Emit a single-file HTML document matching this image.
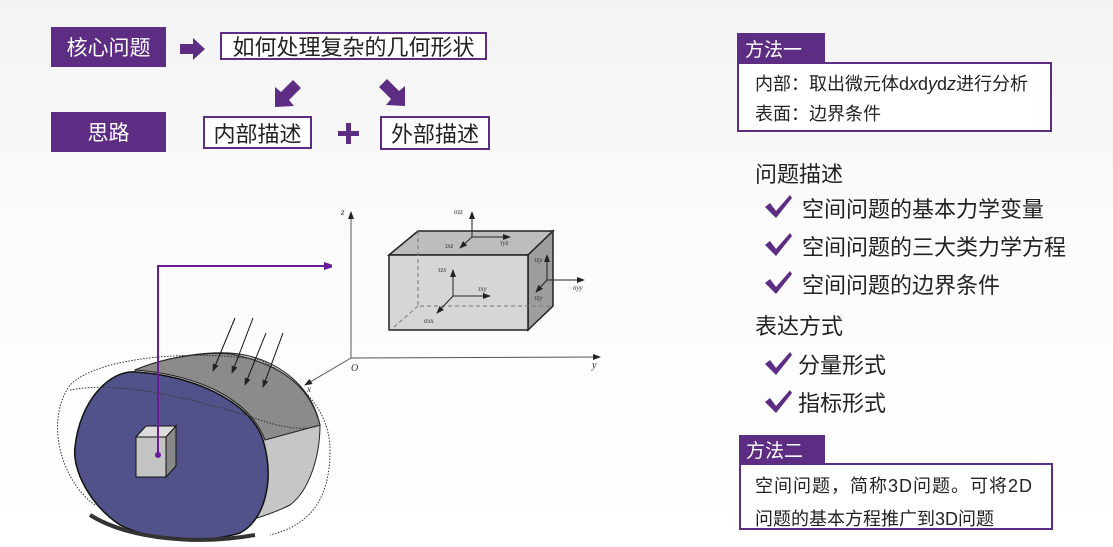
<!DOCTYPE html>
<html><head><meta charset="utf-8"><style>
body{margin:0;width:1113px;height:547px;overflow:hidden;background:linear-gradient(#f3f3f3,#fbfbfb 40%,#fff);font-family:"Liberation Sans","Noto Sans CJK SC",sans-serif;position:relative}
.a{position:absolute;box-sizing:border-box;white-space:nowrap}
.pb{background:#5c2d83;color:#fff;font-size:21px;display:flex;align-items:center;justify-content:center}
.ob{border:2px solid #5c2d83;background:#fff;color:#222;font-size:22px;display:flex;align-items:center;justify-content:center}
.t{color:#222}
</style></head><body>
<div class="a pb" style="left:51px;top:27px;width:115px;height:40px">核心问题</div>
<div class="a ob" style="left:220px;top:32px;width:267px;height:28px">如何处理复杂的几何形状</div>
<div class="a pb" style="left:51px;top:112px;width:115px;height:40px">思路</div>
<div class="a ob" style="left:203px;top:116px;width:109px;height:33px">内部描述</div>
<div class="a ob" style="left:380px;top:116px;width:110px;height:34px">外部描述</div>

<div class="a pb" style="left:737px;top:33px;width:88px;height:30px;font-size:19px;justify-content:flex-start;padding-left:8px">方法一</div>
<div class="a" style="left:737px;top:62px;width:315px;height:70px;border:2px solid #5c2d83;background:#fff"></div>
<div class="a t" style="left:755px;top:70px;font-size:18px">内部：取出微元体d<i>x</i>d<i>y</i>d<i>z</i>进行分析</div>
<div class="a t" style="left:755px;top:100px;font-size:18px">表面：边界条件</div>
<div class="a t" style="left:755px;top:157px;font-size:22px">问题描述</div>
<div class="a t" style="left:802px;top:192px;font-size:22px">空间问题的基本力学变量</div>
<div class="a t" style="left:802px;top:230px;font-size:22px">空间问题的三大类力学方程</div>
<div class="a t" style="left:802px;top:268px;font-size:22px">空间问题的边界条件</div>
<div class="a t" style="left:755px;top:309px;font-size:22px">表达方式</div>
<div class="a t" style="left:798px;top:348px;font-size:22px">分量形式</div>
<div class="a t" style="left:798px;top:386px;font-size:22px">指标形式</div>
<div class="a pb" style="left:739px;top:435px;width:86px;height:29px;font-size:19px;justify-content:flex-start;padding-left:7px">方法二</div>
<div class="a" style="left:739px;top:463px;width:314px;height:67px;border:2px solid #5c2d83;background:#fff"></div>
<div class="a t" style="left:755px;top:472px;font-size:18px;letter-spacing:1px">空间问题，简称3D问题。可将2D</div>
<div class="a t" style="left:755px;top:505px;font-size:18px">问题的基本方程推广到3D问题</div>

<svg class="a" style="left:0;top:0" width="1113" height="547">
<defs><marker id="ar" markerWidth="8" markerHeight="6" refX="7" refY="3" orient="auto"><path d="M0,0L8,3L0,6z" fill="#222"/></marker>
<marker id="ap" markerWidth="8" markerHeight="8" refX="6" refY="4" orient="auto" markerUnits="userSpaceOnUse"><path d="M0,0L12,4L0,8z" fill="#6a1b9a"/></marker></defs>
<path d="M180,44h13v-6l12,11l-12,11v-6h-13z" fill="#5c2d83"/>
<g fill="#5c2d83">
<path d="M275,107 l0,-20 l6,5 l12,-12 l8,8 l-12,12 l5,6 z"/>
<path d="M405,106 l0,-20 l-6,5 l-12,-12 l-8,8 l12,12 l-5,6 z"/>
<rect x="338" y="131" width="21" height="5"/><rect x="346" y="123" width="5" height="21"/>
</g>
<g fill="#5c2d83" transform="translate(765,195)"><path d="M0,12 l5,-4 l6,8 l14,-16 l2,3 l-16,20 z"/></g>
<g fill="#5c2d83" transform="translate(765,233)"><path d="M0,12 l5,-4 l6,8 l14,-16 l2,3 l-16,20 z"/></g>
<g fill="#5c2d83" transform="translate(765,271)"><path d="M0,12 l5,-4 l6,8 l14,-16 l2,3 l-16,20 z"/></g>
<g fill="#5c2d83" transform="translate(765,352)"><path d="M0,12 l5,-4 l6,8 l14,-16 l2,3 l-16,20 z"/></g>
<g fill="#5c2d83" transform="translate(765,390)"><path d="M0,12 l5,-4 l6,8 l14,-16 l2,3 l-16,20 z"/></g>

<g stroke="#555" stroke-width="1" fill="none">
<line x1="351" y1="358" x2="351" y2="212" marker-end="url(#ar)"/>
<line x1="351" y1="358" x2="600" y2="357" marker-end="url(#ar)"/>
<line x1="351" y1="358" x2="305" y2="385" marker-end="url(#ar)"/>
</g>
<text x="341" y="215" font-size="9" font-style="italic" fill="#333" font-family="Liberation Serif">z</text>
<text x="351" y="371" font-size="10" font-style="italic" fill="#333" font-family="Liberation Serif">O</text>
<text x="592" y="368" font-size="10" font-style="italic" fill="#333" font-family="Liberation Serif">y</text>
<text x="307" y="392" font-size="9" font-style="italic" fill="#333" font-family="Liberation Serif">x</text>
<path d="M389,255L418,231H553L528,255Z" fill="#bdbdbd" stroke="#222" stroke-width="1.5"/>
<path d="M528,255L553,231V306L528,330Z" fill="#9e9e9e" stroke="#222" stroke-width="1.5"/>
<rect x="389" y="255" width="139" height="75" fill="#d6d6d6" stroke="#222" stroke-width="1.5"/>
<g stroke="#777" stroke-dasharray="4,3" fill="none"><path d="M418,231V306H553M418,306L393,328"/></g>
<g stroke="#222" stroke-width="1" fill="none" marker-end="url(#ar)">
<line x1="472" y1="237" x2="472" y2="212"/><line x1="472" y1="237" x2="510" y2="237"/><line x1="472" y1="237" x2="460" y2="248"/>
<line x1="453" y1="296" x2="453" y2="270"/><line x1="453" y1="296" x2="490" y2="296"/><line x1="453" y1="296" x2="437" y2="313"/>
<line x1="547" y1="280" x2="547" y2="255"/><line x1="547" y1="280" x2="584" y2="280"/><line x1="547" y1="280" x2="536" y2="292"/>
</g>
<g font-size="7" fill="#333" font-family="Liberation Serif" font-style="italic">
<text x="454" y="214">σzz</text><text x="445" y="248">τxz</text><text x="500" y="245">τyz</text>
<text x="438" y="272">τzx</text><text x="478" y="291">τxy</text><text x="424" y="323">σxx</text>
<text x="534" y="262">τzy</text><text x="573" y="290">σyy</text><text x="534" y="300">τzy</text>
</g>
<path d="M135,370C170,355 210,352 230,353C270,356 310,380 320,425C320,455 310,490 290,505C250,525 200,530 190,530L150,460Z" fill="#c6c6c6" stroke="#222"/>
<path d="M135,370C170,355 220,350 240,356C280,366 310,385 320,425L265,440C250,400 200,375 135,370Z" fill="#8b8b8b" stroke="#222"/>
<path d="M75,447C80,400 110,370 135,372C190,375 250,400 263,440C275,480 265,520 240,533C200,545 150,540 120,525C90,505 72,470 75,447Z" fill="#52528a" stroke="#111" stroke-width="1.5"/>
<path d="M95,505C60,480 45,420 70,385C100,355 200,350 260,360C300,380 330,410 330,450C330,500 310,525 270,535" fill="none" stroke="#333" stroke-dasharray="1.5,1.5"/>
<path d="M70,390C120,380 200,400 260,420C290,430 310,430 320,425" fill="none" stroke="#333" stroke-dasharray="1.5,1.5"/>
<path d="M90,515C130,540 200,545 255,535" stroke="#333" stroke-width="4" fill="none"/>
<g stroke="#111" stroke-width="1" marker-end="url(#ar)">
<line x1="235" y1="318" x2="213" y2="371"/><line x1="253" y1="318" x2="232" y2="373"/>
<line x1="266" y1="333" x2="245" y2="385"/><line x1="283" y1="333" x2="263" y2="387"/>
</g>
<path d="M136,437L146,426H176L166,437Z" fill="#dcdcdc" stroke="#111"/>
<path d="M166,437L176,426V466L166,477Z" fill="#888" stroke="#111"/>
<rect x="136" y="437" width="30" height="40" fill="#c4c4c4" stroke="#111"/>
<path d="M158,455V266H330" stroke="#6a1b9a" stroke-width="2" fill="none" marker-end="url(#ap)"/>
<circle cx="158" cy="455" r="3" fill="#6a1b9a"/>
</svg>
</body></html>
